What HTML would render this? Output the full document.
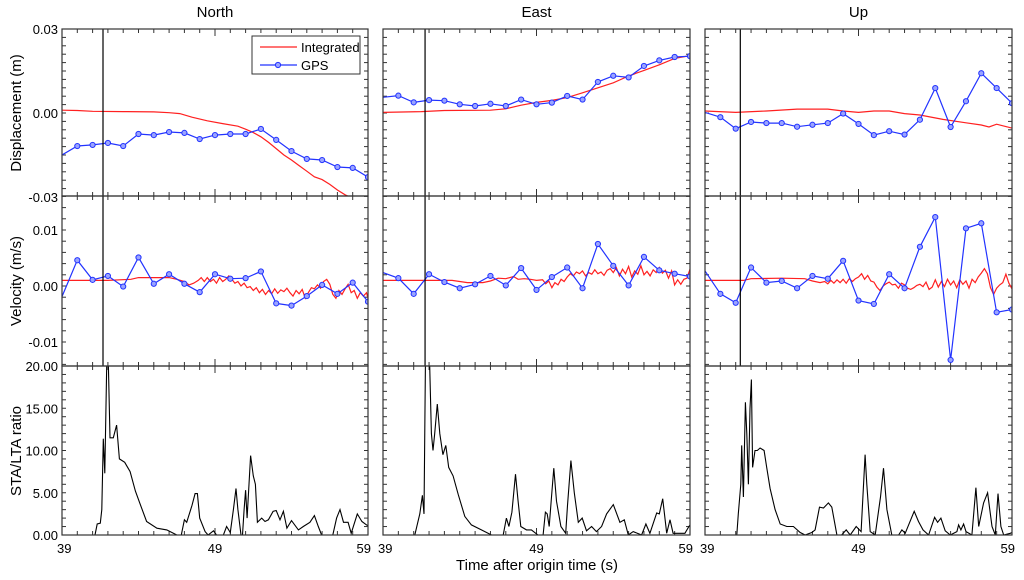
<!DOCTYPE html>
<html><head><meta charset="utf-8"><style>
html,body{margin:0;padding:0;background:#fff;}
svg{display:block;font-family:"Liberation Sans",sans-serif;}
</style></head><body>
<svg id="chart" width="1024" height="580" viewBox="0 0 1024 580" xmlns="http://www.w3.org/2000/svg"></svg>
<script>
// ---- data ----
const compNames = ["North","East","Up"];
const gpsTimes = [39,40,41,42,43,44,45,46,47,48,49,50,51,52,53,54,55,56,57,58,59];
const gpsDispN = [-0.015,-0.0118,-0.0114,-0.0107,-0.0118,-0.0075,-0.0079,-0.0068,-0.0071,-0.0093,-0.0079,-0.0075,-0.0075,-0.0057,-0.0096,-0.0136,-0.0164,-0.0168,-0.0193,-0.0196,-0.0229];
const gpsDispE = [0.0056,0.0062,0.0038,0.0046,0.0044,0.0031,0.0025,0.0033,0.0025,0.0048,0.0031,0.0037,0.0061,0.0048,0.0111,0.0133,0.0127,0.0168,0.0188,0.02,0.0203];
const gpsDispU = [0.0002,-0.0015,-0.0056,-0.0032,-0.0036,-0.0036,-0.0049,-0.0042,-0.0036,-0.0002,-0.0039,-0.0079,-0.0065,-0.0077,-0.0024,0.0089,-0.005,0.0042,0.0142,0.0089,0.0035];
const gpsVelN = [-0.0019,0.0046,0.0011,0.0018,-0.0001,0.0051,0.0004,0.0021,0.0004,-0.0011,0.0021,0.0013,0.0014,0.0026,-0.0031,-0.0035,-0.0018,0.0002,-0.0014,0.0006,-0.0028];
const gpsVelE = [0.0024,0.0014,-0.0014,0.0021,0.0007,-0.0004,0.0003,0.0018,0.0001,0.0032,-0.0007,0.0016,0.0033,-0.0004,0.0075,0.0036,0.0001,0.0052,0.0028,0.0022,0.0017];
const gpsVelU = [0.0027,-0.0014,-0.003,0.0033,0.0006,0.0009,-0.0004,0.0018,0.0013,0.0045,-0.0026,-0.0032,0.0021,-0.0004,0.007,0.0123,-0.0132,0.0103,0.0112,-0.0047,-0.0042];

const intDispNT = [39,40,41,43,45,46,46.7,47.5,48.5,49.5,50.5,51,51.5,52,52.5,53,53.5,54,54.5,55,55.5,56,56.5,57,57.5,58.2];
const intDispNV = [0.001,0.0009,0.0006,0.0005,0.0004,0.0001,-0.0002,-0.0015,-0.0028,-0.0038,-0.0047,-0.0058,-0.007,-0.0085,-0.0105,-0.0127,-0.015,-0.0168,-0.0188,-0.0208,-0.0228,-0.0238,-0.0255,-0.0275,-0.0292,-0.031];
const intDispET = [39,41.5,43,46,47,48,49,50,51,52,53,54,55,56,57,58,59];
const intDispEV = [0.0002,0.0005,0.0009,0.001,0.0015,0.0028,0.0038,0.0045,0.0055,0.0072,0.009,0.0108,0.0132,0.0152,0.0172,0.0195,0.0205];
const intDispUT = [39,41,43,45,47,48,49,50,51,52,53,54.5,56,57,57.5,58,59];
const intDispUV = [0.0007,0.0002,0.0007,0.0014,0.0014,0.0007,0.0002,0.0007,0.0007,-0.0002,-0.0007,-0.0023,-0.0035,-0.0043,-0.005,-0.004,-0.0054];

const intVelNT = [39,42,43.5,44,46,46.5,47,47.3,47.6,47.9,48.1,48.3,48.5,48.7,48.9,49.1,49.3,49.5,49.7,49.9,50.1,50.3,50.5,50.7,50.9,51.1,51.3,51.5,51.7,51.9,52.1,52.3,52.5,52.7,52.9,53.1,53.3,53.5,53.7,53.9,54.1,54.3,54.5,54.7,54.9,55.1,55.3,55.5,55.7,55.9,56.1,56.3,56.5,56.7,56.9,57.1,57.3,57.5,57.7,57.9,58.1,58.3,58.5,58.7,58.9,59];
const intVelNV = [0.001,0.001,0.0012,0.0015,0.0015,0.0012,0.0008,0.0002,0.0005,0.001,0.0015,0.0008,0.0015,0.0008,0.0012,0.0005,0.0015,0.0008,0.0012,0.0018,0.0012,0.0005,0.0008,0,0.0005,-0.0003,-0.0001,-0.0008,-0.0003,-0.0012,-0.0006,-0.0015,-0.0008,-0.0014,-0.0005,-0.0013,-0.0007,-0.001,-0.0004,-0.0012,-0.0018,-0.0008,-0.0014,-0.0006,-0.0022,-0.0012,-0.0003,-0.0005,0.0002,-0.0004,0.0008,0.0012,0.0003,-0.0015,-0.0022,-0.0008,-0.0015,-0.0005,0.0003,-0.0012,-0.0008,-0.0022,-0.0012,-0.0018,-0.0012,-0.0022];
const intVelET = [39,43.5,44.5,45.5,46,46.5,47,47.5,47.8,48.2,48.6,49,49.4,49.6,49.8,50,50.2,50.4,50.6,50.8,51,51.2,51.4,51.6,51.8,52,52.2,52.4,52.6,52.8,53,53.2,53.4,53.6,53.8,54,54.2,54.4,54.6,54.8,55,55.2,55.4,55.6,55.8,56,56.2,56.4,56.6,56.8,57,57.2,57.4,57.6,57.8,58,58.2,58.4,58.6,58.8,59];
const intVelEV = [0.001,0.001,0.0006,0.0006,0.0009,0.0014,0.0013,0.0017,0.0012,0.0013,0.0012,0.001,0.0011,0.0004,0.0009,-0.0003,0.0006,0.0002,0.0012,0.0008,0.0016,0.0022,0.0018,0.0025,0.0022,0.0027,0.0018,0.0024,0.0021,0.0029,0.0022,0.0025,0.0019,0.0028,0.0031,0.0024,0.0033,0.0018,0.003,0.0022,0.0035,0.0016,0.0027,0.0021,0.0036,0.002,0.0026,0.0018,0.0029,0.0024,0.0033,0.0023,0.0028,0.0014,0.0027,0.0002,0.0011,0.0003,0.0012,0.0014,0.003];
const intVelUT = [39,41.5,42,44,45.5,46,46.5,46.8,47,47.2,47.4,47.6,47.8,48,48.2,48.4,48.6,48.8,49,49.2,49.4,49.6,49.8,50,50.2,50.4,50.6,50.8,51,51.2,51.4,51.6,51.8,52,52.2,52.4,52.6,52.8,53,53.2,53.4,53.6,53.8,54,54.2,54.4,54.6,54.8,55,55.2,55.4,55.6,55.8,56,56.2,56.4,56.6,56.8,57,57.2,57.4,57.6,57.8,58,58.2,58.4,58.6,58.8,59];
const intVelUV = [0.001,0.001,0.0013,0.0014,0.0013,0.0009,0.0006,0.0008,0.0004,0.001,0.0005,0.0011,0.0006,0.0012,0.0005,0.0013,0.0008,0.0013,0.0016,0.0022,0.0012,0.0019,0.0009,0.0007,-0.0002,-0.0008,0,0.0004,0.0007,0.0002,0.0003,-0.0004,0.0005,0.0002,-0.0004,-0.0006,-0.0003,0.0001,0.0003,-0.0001,0.0007,-0.0006,-0.0002,0.0011,-0.0002,0.0008,-0.0001,0.0012,0.0002,0.0009,-0.0003,0.0011,0.0003,0.0009,-0.0004,0.0012,0.0006,0.0016,0.0023,0.0031,0.0022,-0.0003,-0.0015,-0.0004,0.0002,0.0006,0.0021,0.0005,-0.0005];

const staNT = [39,41.16,41.3,41.5,41.6,41.7,41.8,41.92,42.03,42.14,42.35,42.57,42.75,43.1,43.45,43.8,44.1,44.53,45.2,45.85,46.5,46.8,47.0,47.15,47.5,47.7,47.85,48.0,48.35,48.55,48.9,49.1,49.55,49.76,50.0,50.2,50.37,50.5,50.7,50.8,50.9,51.0,51.1,51.33,51.5,51.64,51.77,52.05,52.27,52.49,52.8,53.0,53.25,53.47,53.7,54.0,54.45,54.77,55.2,55.5,55.75,55.97,56.7,56.95,57.17,57.4,57.7,57.9,58.3,58.6,58.9,59];
const staNV = [0,0,1.3,1.4,3,11.4,7.3,20,20,11.5,11.5,13,9,8.6,7.5,5.2,3.7,1.6,0.8,0.6,0,0,1.8,1.5,3.5,4.9,4.9,2,0.4,0,0.5,0,0,1,0.3,3,5.5,3,0,0,3,5.3,2,9.4,7,6,1.5,2,1.6,1.8,2.8,2.9,1.8,2.8,0.8,1.7,0.6,1,1.5,2.3,1,0,0,2,3,1.5,1.5,0.2,2.5,1.6,1.2,1.1];
const staET = [39,41.07,41.24,41.4,41.57,41.67,41.76,41.93,42.04,42.15,42.26,42.37,42.54,42.7,42.9,43.09,43.28,43.57,43.9,44.33,44.76,45.41,46.07,46.83,47.04,47.2,47.4,47.63,47.8,47.98,48.35,48.67,49.1,49.43,49.58,49.7,49.83,49.98,50.13,50.3,50.59,50.9,51.02,51.24,51.46,51.72,51.98,52.26,52.59,52.9,53.24,53.57,54.0,54.43,54.72,54.98,55.3,55.85,56.13,56.39,56.83,57.0,57.22,57.48,57.7,57.9,58.67,58.93,59];
const staEV = [0,0,1.3,2.5,4.7,2.5,20,20,20,12,10,12,15.5,12,9.5,10.6,8,7,4.8,2.2,1.2,0.6,0,0,2,1,2.7,7.2,4,1,0.6,0.6,0,0,2.7,2.5,1,4.5,7.9,4,1,0.2,3.5,8.8,5,1.5,2,0.5,1,0.4,1,2.5,3.6,1.5,1.8,0,0.4,0,1.3,0.2,2.6,2.5,4.3,0.2,1.8,0.2,0.2,1,1.2];
const staUT = [39,41.07,41.17,41.33,41.39,41.5,41.63,41.72,41.83,41.93,42.02,42.1,42.26,42.41,42.59,42.85,43.02,43.24,43.57,43.9,44.33,44.76,45.2,45.52,45.96,46.17,46.46,46.72,47.04,47.26,47.59,47.9,48.2,48.46,48.85,49.17,49.43,49.54,49.76,50.09,50.43,50.63,50.85,51.17,51.61,51.83,52.04,52.63,52.91,53.2,53.57,53.96,54.15,54.37,54.65,54.98,55.41,55.52,55.67,55.85,56.0,56.39,56.65,56.83,57.15,57.41,57.7,57.91,58.09,58.28,58.46,58.89,59];
const staUV = [0,0,2.5,6,10.6,4.5,15.7,12,6,15,18.4,8,10,10,10.3,10,8,5.5,3,1.3,1,1,0.3,0,0.3,0.6,3.3,3.2,3.8,3.3,0,0,0.6,0,1,0.4,9.5,6,0.4,0,4.5,7.9,3,0,0,0.6,0.2,2.8,1.6,0.6,0,2.1,1.5,2,0.5,0,0.4,1.2,0.6,1.3,0.4,0,5.6,1,3.8,5,1,0,4.9,1,0,0.2,0.3];

const originTimes = [41.68,41.74,41.3];
const xTickLabels = ["39","49","59"];
const dispTickLabels = ["0.03","0.00","-0.03"];
const dispTickVals = [0.03,0,-0.03];
const velTickLabels = ["0.01","0.00","-0.01"];
const velTickVals = [0.01,0,-0.01];
const staTickLabels = ["20.00","15.00","10.00","5.00","0.00"];
const staTickVals = [20,15,10,5,0];

// ---- layout ----
const NS="http://www.w3.org/2000/svg";
const svg=document.getElementById('chart');
function mk(tag,attrs,parent){const e=document.createElementNS(NS,tag);for(const k in attrs)e.setAttribute(k,attrs[k]);(parent||svg).appendChild(e);return e;}
const cols=[[62,368],[383,690],[705,1012]];
const rows=[{top:29,bot:196,y:v=>113-v*2800,step:0.003,lo:-0.03,hi:0.03},
            {top:196,bot:366,y:v=>286-v*5600,step:0.002,lo:-0.014,hi:0.016},
            {top:366,bot:535,y:v=>535-v*8.45,step:1,lo:0,hi:20}];
function xs(c){const a=cols[c][0],b=cols[c][1];return t=>a+(t-39)/20*(b-a);}
function path(T,V,X,Y){let d='';for(let i=0;i<T.length;i++){d+=(i?'L':'M')+X(T[i]).toFixed(1)+' '+Y(V[i]).toFixed(1);}return d;}

const defs=mk('defs',{});
const gpsDisp=[gpsDispN,gpsDispE,gpsDispU], gpsVel=[gpsVelN,gpsVelE,gpsVelU];
const intDT=[intDispNT,intDispET,intDispUT], intDV=[intDispNV,intDispEV,intDispUV];
const intVT=[intVelNT,intVelET,intVelUT], intVV=[intVelNV,intVelEV,intVelUV];
const staT=[staNT,staET,staUT], staV=[staNV,staEV,staUV];
const rowNames=['displacement','velocity','sta-lta'];

for(let c=0;c<3;c++){
  const X=xs(c);const [x0,x1]=cols[c];
  const t=mk('text',{x:(x0+x1)/2,y:17,'text-anchor':'middle','font-size':15,fill:'#000'});t.textContent=compNames[c];
  
  
  for(let r=0;r<3;r++){
    const R=rows[r];
    const g=mk('g',{});
    
    
    const cid='clip'+c+r;
    const cp=mk('clipPath',{id:cid},defs);mk('rect',{x:x0,y:R.top,width:x1-x0,height:R.bot-R.top},cp);
    // ticks x
    for(let tt=39;tt<=59;tt++){
      const len=(tt===49)?7:4;const px=X(tt);
      mk('line',{x1:px,y1:R.bot,x2:px,y2:R.bot-len,stroke:'#333','stroke-width':1},g);
      mk('line',{x1:px,y1:R.top,x2:px,y2:R.top+len,stroke:'#333','stroke-width':1},g);
    }
    // ticks y
    const n=Math.round((R.hi-R.lo)/R.step);
    for(let i=0;i<=n;i++){
      const v=R.lo+i*R.step;const py=R.y(v);
      if(py<R.top-0.5||py>R.bot+0.5)continue;
      mk('line',{x1:x0,y1:py,x2:x0+4,y2:py,stroke:'#333','stroke-width':1},g);
      mk('line',{x1:x1,y1:py,x2:x1-4,y2:py,stroke:'#333','stroke-width':1},g);
    }
    const data=mk('g',{'clip-path':'url(#'+cid+')'},g);
    if(r<2){
      const iT=r===0?intDT[c]:intVT[c], iV=r===0?intDV[c]:intVV[c];
      const red=mk('path',{d:path(iT,iV,X,R.y),fill:'none',stroke:'#ff2020','stroke-width':1.2},data);
      
      
      const gv=r===0?gpsDisp[c]:gpsVel[c];
      const blue=mk('path',{d:path(gpsTimes,gv,X,R.y),fill:'none',stroke:'#2233ff','stroke-width':1.2},data);
      
      
      for(let i=1;i<gpsTimes.length;i++){
        const m=mk('circle',{cx:X(gpsTimes[i]),cy:R.y(gv[i]),r:2.6,fill:'#9aa4ff',stroke:'#2233ff','stroke-width':1},data);
        
        
      }
      mk('line',{x1:X(originTimes[c]),y1:R.top,x2:X(originTimes[c]),y2:R.bot,stroke:'#000','stroke-width':1.2},data);
    } else {
      const s=mk('path',{d:path(staT[c],staV[c],X,R.y),fill:'none',stroke:'#000','stroke-width':1.1},data);
      
      
    }
    mk('rect',{x:x0,y:R.top,width:x1-x0,height:R.bot-R.top,fill:'none',stroke:'#333','stroke-width':1.2},g);
    // y labels on first column
    if(c===0){
      const labs=[dispTickLabels,velTickLabels,staTickLabels][r], vals=[dispTickVals,velTickVals,staTickVals][r];
      for(let i=0;i<labs.length;i++){
        const l=mk('text',{x:58,y:R.y(vals[i])+5,'text-anchor':'end','font-size':13,fill:'#000'});l.textContent=labs[i];
        
        
      }
    }
  }
  for(let i=0;i<3;i++){
    const tv=[39,49,59][i];
    const anchor=i===0?'start':(i===2?'end':'middle');
    const l=mk('text',{x:X(tv)+(i===0?-5:(i===2?3:0)),y:553,'text-anchor':anchor,'font-size':13,fill:'#000'});l.textContent=xTickLabels[i];
    
    
  }
}
// axis titles
const yt=[['Displacement (m)',113],['Velocity (m/s)',281],['STA/LTA ratio',451]];
yt.forEach(([s,cy])=>{const e=mk('text',{x:0,y:0,transform:'translate(21,'+cy+') rotate(-90)','text-anchor':'middle','font-size':15,fill:'#000'});e.textContent=s;
  
  });
const xt=mk('text',{x:537,y:570,'text-anchor':'middle','font-size':15,fill:'#000'});xt.textContent='Time after origin time (s)';


// legend
const lg=mk('g',{});


mk('rect',{x:252,y:36,width:108,height:38,fill:'#fff',stroke:'#333','stroke-width':1},lg);
mk('line',{x1:260,y1:47,x2:297,y2:47,stroke:'#ff2020','stroke-width':1.3},lg);
const l1=mk('text',{x:301,y:52,'font-size':13,fill:'#000'},lg);l1.textContent='Integrated';


mk('line',{x1:260,y1:65,x2:297,y2:65,stroke:'#2233ff','stroke-width':1.2},lg);
mk('circle',{cx:278,cy:65,r:2.6,fill:'#9aa4ff',stroke:'#2233ff','stroke-width':1},lg);
const l2=mk('text',{x:301,y:70,'font-size':13,fill:'#000'},lg);l2.textContent='GPS';


</script>
</body></html>
